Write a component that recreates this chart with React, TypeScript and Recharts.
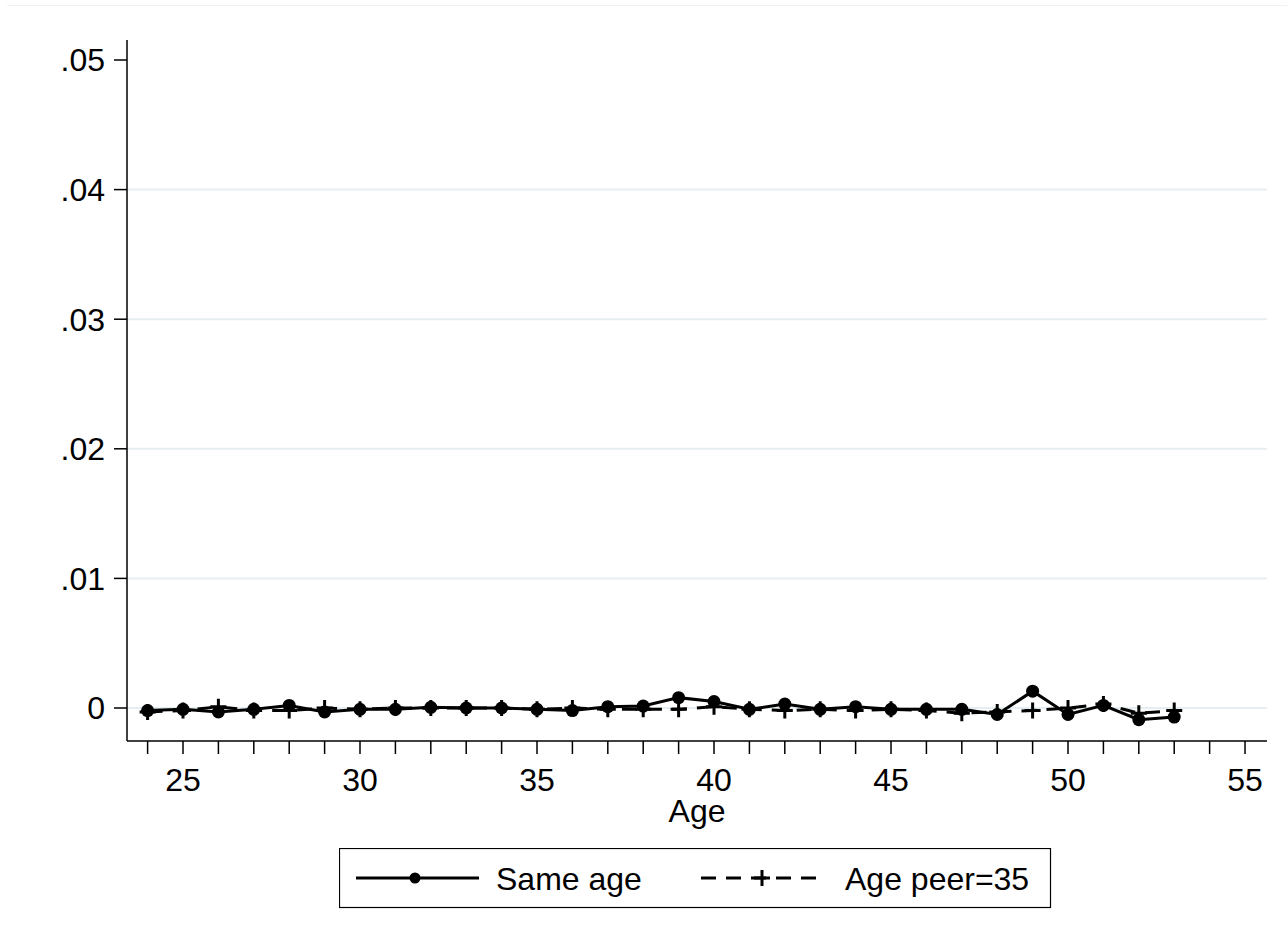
import React from 'react';
import { LineChart, Line, XAxis, YAxis, CartesianGrid, Legend } from 'recharts';

const ages = [24, 25, 26, 27, 28, 29, 30, 31, 32, 33, 34, 35, 36, 37, 38, 39, 40, 41, 42, 43, 44, 45, 46, 47, 48, 49, 50, 51, 52, 53];
const sameAge = [-0.0002, -0.0001, -0.0003, -0.0001, 0.0002, -0.0003, -0.0001, -0.0001, 0.00005, 0.0, 0.0, -0.0001, -0.0002, 0.0001, 0.00015, 0.0008, 0.0005, -0.0001, 0.0003, -0.0001, 0.0001, -0.0001, -0.0001, -0.0001, -0.0005, 0.0013, -0.0005, 0.0002, -0.0009, -0.0007];
const agePeer35 = [-0.0003, -0.0002, 0.0001, -0.0002, -0.0002, 0.0, -0.0001, 0.0, 0.0, 0.0, 0.0, -0.0001, 0.0, -0.0001, -0.0001, -0.0001, 0.0001, -0.0001, -0.0002, -0.0001, -0.0002, -0.0001, -0.0002, -0.0004, -0.0003, -0.0002, 0.0, 0.0003, -0.0004, -0.0002];
const xTicks = [24, 25, 26, 27, 28, 29, 30, 31, 32, 33, 34, 35, 36, 37, 38, 39, 40, 41, 42, 43, 44, 45, 46, 47, 48, 49, 50, 51, 52, 53, 54, 55];
const yTicks = [0, 0.01, 0.02, 0.03, 0.04, 0.05];
const gridValues = [0, 0.01, 0.02, 0.03, 0.04];
const seriesNames = ['Same age', 'Age peer=35'];

const data = ages.map((a, i) => ({ age: a, same: sameAge[i], peer: agePeer35[i] }));

const FONT = '"Liberation Sans", Arial, Helvetica, sans-serif';

const PlusDot = (props: any) => {
  const { cx, cy, index } = props;
  if (cx == null || cy == null) return <g key={`p${index}`} />;
  const s = 8;
  return (
    <path
      key={`p${index}`}
      d={`M${cx - s},${cy}H${cx + s}M${cx},${cy - s}V${cy + s}`}
      stroke="#000"
      strokeWidth={3}
      fill="none"
    />
  );
};

const CircleDot = (props: any) => {
  const { cx, cy, index } = props;
  if (cx == null || cy == null) return <g key={`c${index}`} />;
  return <circle key={`c${index}`} cx={cx} cy={cy} r={6.5} fill="#000" stroke="none" />;
};

const LegendBox = () => (
  <svg width={713} height={61} style={{ display: 'block' }}>
    <rect x={0.5} y={0.5} width={711} height={59} fill="#fff" stroke="#000" strokeWidth={1.2} />
    <line x1={17} x2={140} y1={30} y2={30} stroke="#000" strokeWidth={3} />
    <circle cx={76} cy={30} r={5.5} fill="#000" />
    <text x={157} y={42} fontFamily={FONT} fontSize={32} fill="#000">{seriesNames[0]}</text>
    <line x1={362} x2={479} y1={30} y2={30} stroke="#000" strokeWidth={3} strokeDasharray="15 10" />
    <path d="M415,30H431M423,22V38" stroke="#000" strokeWidth={3} />
    <text x={506} y={42} fontFamily={FONT} fontSize={32} fill="#000">{seriesNames[1]}</text>
  </svg>
);

const fmtY = (v: number) => (v === 0 ? '0' : '.' + String(Math.round(v * 100)).padStart(2, '0'));
const fmtX = (v: number) => (v % 5 === 0 ? String(v) : '');

export default function App() {
  return (
    <div style={{ position: 'absolute', left: 0, top: 0, width: 1287, height: 949, background: '#fff' }}>
      <div style={{ position: 'absolute', left: 7, top: 5, width: 1280, height: 0, borderTop: '1px solid #eef2f4' }} />
      <LineChart
        width={1287}
        height={949}
        data={data}
        margin={{ top: 40, right: 20, left: 0, bottom: 128 }}
        style={{ fontFamily: FONT }}
      >
        <CartesianGrid horizontal={true} vertical={false} horizontalValues={gridValues} stroke="#e6eef1" strokeWidth={2} />
        <XAxis
          dataKey="age"
          type="number"
          domain={[23.418, 55.621]}
          ticks={xTicks}
          interval={0}
          tickFormatter={fmtX}
          allowDataOverflow
          height={80}
          tickSize={13}
          tickMargin={14}
          stroke="#000"
          strokeWidth={1.5}
          tick={{ fill: '#000', fontSize: 32, fontFamily: FONT }}
          tickLine={{ stroke: '#000', strokeWidth: 1.5 }}
          label={{
            content: (p: any) => (
              <text x={p.viewBox.x + p.viewBox.width / 2} y={822} textAnchor="middle" fontFamily={FONT} fontSize={32} fill="#000">
                Age
              </text>
            ),
          }}
        />
        <YAxis
          type="number"
          domain={[-0.002546, 0.051543]}
          ticks={yTicks}
          interval={0}
          tickFormatter={fmtY}
          allowDataOverflow
          width={127}
          tickSize={13}
          tickMargin={9}
          stroke="#000"
          strokeWidth={1.5}
          tick={{ fill: '#000', fontSize: 32, fontFamily: FONT }}
          tickLine={{ stroke: '#000', strokeWidth: 1.5 }}
        />
        <Legend
          layout="horizontal"
          verticalAlign="middle"
          align="center"
          wrapperStyle={{ left: 339, top: 848, width: 713, height: 61 }}
          content={() => <LegendBox />}
        />
        <Line
          dataKey="same"
          name={seriesNames[0]}
          type="linear"
          stroke="#000"
          strokeWidth={3}
          dot={CircleDot}
          activeDot={false}
          isAnimationActive={false}
        />
        <Line
          dataKey="peer"
          name={seriesNames[1]}
          type="linear"
          stroke="#000"
          strokeWidth={3}
          strokeDasharray="15 10"
          dot={PlusDot}
          activeDot={false}
          isAnimationActive={false}
        />
      </LineChart>
    </div>
  );
}
